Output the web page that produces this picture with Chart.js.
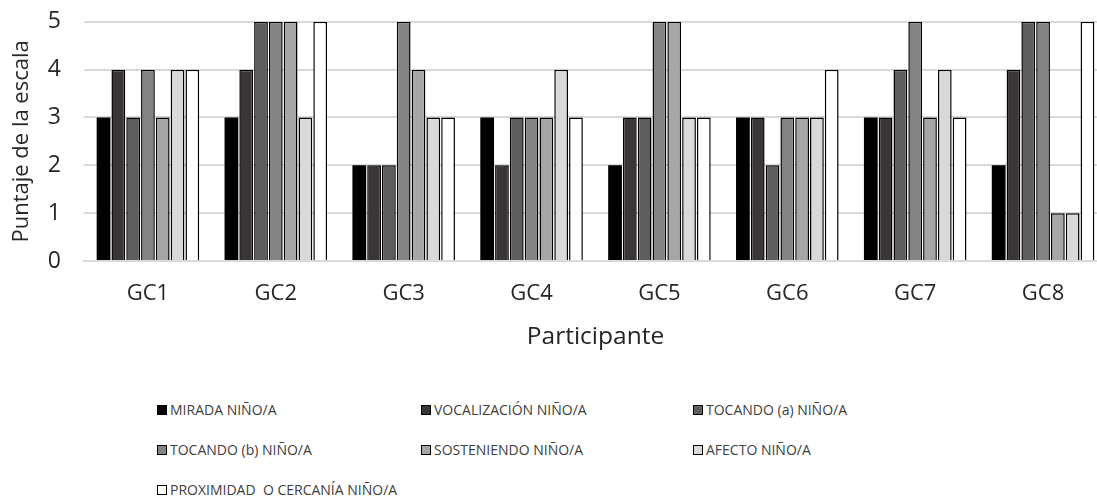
<!DOCTYPE html>
<html>
<head>
<meta charset="utf-8">
<script src="https://cdn.jsdelivr.net/npm/chart.js@4/dist/chart.umd.min.js"></script>
<style>
  html, body { margin: 0; padding: 0; background: #fff; overflow: hidden; }
  #wrap { position: relative; width: 1097px; height: 498px; overflow: hidden; }
  #chartBox { position: absolute; left: 0; top: -15px; width: 1110px; height: 376px; }
  #legend {
    position: absolute; left: 157px; top: 399px;
    display: grid; grid-template-columns: 264px 272px 272px; grid-auto-rows: 40px;
    font-family: "Open Sans", sans-serif; font-size: 14px; color: #404040;
  }
  .item { display: flex; align-items: flex-start; height: 22px; line-height: 22px; white-space: pre; }
  .box { width: 8px; height: 8px; border: 1px solid #000; margin: 6px 3px 0 0; flex: none; }
</style>
</head>
<body>
<div id="wrap">
  <div id="chartBox"><canvas id="c"></canvas></div>
  <div id="legend"></div>
</div>
<script>
  const categories = ['GC1', 'GC2', 'GC3', 'GC4', 'GC5', 'GC6', 'GC7', 'GC8'];
  const seriesNames = [
    'MIRADA NIÑO/A',
    'VOCALIZACIÓN NIÑO/A',
    'TOCANDO (a) NIÑO/A',
    'TOCANDO (b) NIÑO/A',
    'SOSTENIENDO NIÑO/A',
    'AFECTO NIÑO/A',
    'PROXIMIDAD  O CERCANÍA NIÑO/A'
  ];
  const mirada       = [3, 3, 2, 3, 2, 3, 3, 2];
  const vocalizacion = [4, 4, 2, 2, 3, 3, 3, 4];
  const tocandoA     = [3, 5, 2, 3, 3, 2, 4, 5];
  const tocandoB     = [4, 5, 5, 3, 5, 3, 5, 5];
  const sosteniendo  = [3, 5, 4, 3, 5, 3, 3, 1];
  const afecto       = [4, 3, 3, 4, 3, 3, 4, 1];
  const proximidad   = [4, 5, 3, 3, 3, 4, 3, 5];
  const yTicks = [0, 1, 2, 3, 4, 5];

  const seriesValues = [mirada, vocalizacion, tocandoA, tocandoB, sosteniendo, afecto, proximidad];
  const fills = ['#000000', '#3a3636', '#5e5e5e', '#838383', '#a6a6a6', '#d9d9d9', '#ffffff'];

  const datasets = seriesValues.map((vals, i) => ({
    label: seriesNames[i],
    data: vals,
    backgroundColor: fills[i],
    borderColor: '#000000',
    borderWidth: i === 0 ? 0 : 1.5,
    categoryPercentage: 0.81,
    barPercentage: 0.93
  }));

  const font = "'Open Sans', sans-serif";
  const textColor = '#262626';

  const chart = new Chart(document.getElementById('c'), {
    type: 'bar',
    data: { labels: categories, datasets },
    options: {
      responsive: true, maintainAspectRatio: false, animation: false,
      layout: { padding: { top: 0, right: 3, left: 0, bottom: 0 } },
      plugins: { legend: { display: false }, tooltip: { enabled: false } },
      scales: {
        x: {
          grid: { display: false, drawTicks: false },
          border: { color: '#d9d9d9', width: 2 },
          ticks: { color: textColor, font: { family: font, size: 22 }, padding: 20 },
          title: { display: true, text: 'Participante', color: textColor, font: { family: font, size: 24.5 }, padding: { top: 0, bottom: 9 } },
          afterFit: s => { s.height = 100; }
        },
        y: {
          min: 0, max: 5,
          afterBuildTicks: s => { s.ticks = yTicks.map(v => ({ value: v })); },
          grid: { color: '#d9d9d9', lineWidth: 2, drawTicks: false },
          border: { display: false },
          ticks: { color: textColor, font: { family: font, size: 23 }, padding: 23 },
          title: { display: true, text: 'Puntaje de la escala', color: textColor, font: { family: font, size: 22 }, padding: { top: 9, bottom: 0 } },
          afterFit: s => { s.width = 84; }
        }
      }
    }
  });

  const legend = document.getElementById('legend');
  legend.innerHTML = chart.data.datasets.map(d =>
    `<div class="item"><span class="box" style="background:${d.backgroundColor}"></span>${d.label}</div>`
  ).join('');
</script>
</body>
</html>
